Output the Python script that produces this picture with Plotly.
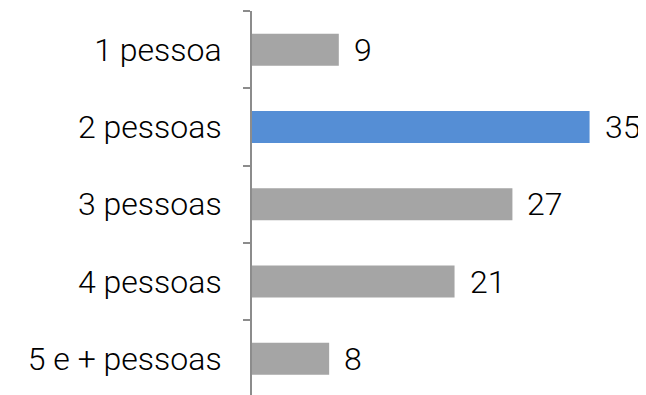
import plotly.graph_objects as go

# categorias e valores
categorias = ["1 pessoa", "2 pessoas", "3 pessoas", "4 pessoas", "5 e + pessoas"]
valores = [9, 35, 27, 21, 8]
cores = ["#A5A5A5", "#558ED5", "#A5A5A5", "#A5A5A5", "#A5A5A5"]

fonte = dict(family="Roboto", size=32, color="#000000", weight=300)

fig = go.Figure(go.Bar(
    x=valores, y=categorias, orientation="h",
    marker=dict(color=cores, line_width=0),
    hoverinfo="skip",
))

# rótulos de valor à direita das barras
fig.update_layout(annotations=[
    dict(x=v, y=c, xref="x", yref="y", text=str(v), showarrow=False,
         xanchor="left", xshift=13, font=fonte)
    for c, v in zip(categorias, valores)
])

# a página tem 8px de margem no body, por isso a figura é 8px menor
fig.update_layout(
    width=638, height=387,
    margin=dict(l=244, r=0, t=3, b=0),
    plot_bgcolor="white", paper_bgcolor="white",
    bargap=0.586,
    showlegend=False,
)

fig.update_xaxes(range=[0, 40.85], visible=False)
fig.update_yaxes(
    type="category", categoryorder="array", categoryarray=categorias,
    range=[4.468, -0.5],
    showline=True, linecolor="#8C8C8C", linewidth=2,
    ticks="outside", ticklen=7, tickwidth=2, tickcolor="#8C8C8C",
    tickson="boundaries",
    showgrid=False, zeroline=False, automargin=False,
    tickfont=fonte, ticklabelstandoff=22,
)

fig.write_html("out.html")
